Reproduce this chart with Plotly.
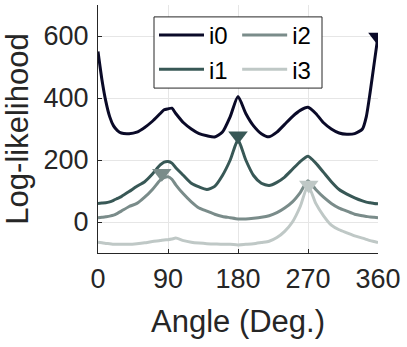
import plotly.graph_objects as go

# angles (deg) at which the curves were sampled
angle = [0, 5, 10, 15, 20, 25, 30, 40, 50, 60, 70, 80, 85, 90, 95, 100, 110, 120,
         130, 140, 150, 160, 170, 180, 190, 200, 210, 220, 230, 240, 250, 260,
         270, 280, 290, 300, 310, 320, 330, 340, 345, 350, 355, 360]

i0 = [550, 460, 390, 340, 310, 295, 287, 285, 290, 305, 325, 350, 362, 365, 367, 350, 320, 300,
      285, 278, 274, 290, 340, 405, 350, 310, 285, 275, 290, 315, 340, 360,
      370, 350, 320, 300, 287, 283, 285, 300, 340, 420, 510, 600]
i1 = [60, 61, 62, 65, 70, 76, 82, 98, 115, 130, 155, 184, 193, 195, 190, 175, 150, 125,
      113, 105, 115, 150, 200, 265, 200, 150, 125, 118, 128, 145, 170, 195,
      212, 190, 160, 130, 105, 90, 78, 68, 64, 62, 60, 59]
i2 = [14, 15, 17, 19, 22, 28, 35, 50, 60, 80, 105, 135, 143, 146, 138, 120, 90, 65,
      45, 35, 25, 18, 14, 10, 10, 12, 15, 20, 30, 45, 65, 95,
      133, 105, 80, 60, 45, 35, 25, 20, 18, 16, 15, 14]
i3 = [-65, -67, -69, -70, -72, -72, -72, -72, -70, -67, -63, -60, -58, -57, -55, -52, -60, -65,
      -68, -70, -71, -72, -72, -74, -72, -70, -66, -62, -50, -30, 0, 50,
      118, 60, 20, -10, -25, -35, -45, -52, -56, -60, -63, -66]

names = ['i0', 'i1', 'i2', 'i3']
series = [i0, i1, i2, i3]
colors = ['#0a0a28', '#385856', '#7a8c8a', '#bfc8c6']
legend_col = ['legend', 'legend', 'legend2', 'legend2']

# maximum marker of each curve
peak_angle = [360, 180, 82, 271]
peak_value = [597, 278, 157, 119]

FONT = 'Liberation Sans, Arial, sans-serif'

fig = go.Figure()
for name, ys, c, lg in zip(names, series, colors, legend_col):
    fig.add_trace(go.Scatter(x=angle, y=ys, mode='lines', name=name, legend=lg,
                             line=dict(color=c, width=3, shape='spline', smoothing=0.6)))
for xa, ya, c in zip(peak_angle, peak_value, colors):
    fig.add_trace(go.Scatter(x=[xa], y=[ya], mode='markers', showlegend=False,
                             marker=dict(symbol='triangle-down', size=17, color=c,
                                         line=dict(width=0))))

# frame around the two legend columns
fig.add_shape(type='rect', xref='paper', yref='paper', x0=0.2, x1=0.8, y0=0.665, y1=0.952,
              line=dict(color='#262626', width=1), fillcolor='white', layer='above')

leg = dict(xanchor='left', yanchor='top', y=0.968, itemwidth=45,
           bgcolor='rgba(0,0,0,0)', borderwidth=0,
           font=dict(size=24, color='black'))

fig.update_layout(
    width=407, height=347,
    margin=dict(l=98, r=29, t=5, b=94),
    paper_bgcolor='white', plot_bgcolor='white',
    font=dict(family=FONT, color='#262626'),
    legend=dict(x=0.2, **leg),
    legend2=dict(x=0.497, **leg),
    xaxis=dict(range=[0, 360], tickvals=[0, 90, 180, 270, 360], automargin=False,
               showgrid=True, gridcolor='#e6e6e6', zeroline=False,
               showline=True, linecolor='#262626', linewidth=1,
               ticks='inside', ticklen=4, tickcolor='#262626',
               tickfont=dict(size=27), ticklabelstandoff=2,
               title=dict(text='Angle (Deg.)', font=dict(size=31), standoff=16)),
    yaxis=dict(range=[-100, 700], tickvals=[0, 200, 400, 600], automargin=False,
               showgrid=True, gridcolor='#e6e6e6', zeroline=False,
               showline=True, linecolor='#262626', linewidth=1,
               ticks='inside', ticklen=4, tickcolor='#262626',
               tickfont=dict(size=27), ticklabelstandoff=3,
               title=dict(text='Log-likelihood', font=dict(size=31), standoff=21)),
)

fig.write_html('out.html', config={'displayModeBar': False},
               post_script="document.body.style.margin='0';")
